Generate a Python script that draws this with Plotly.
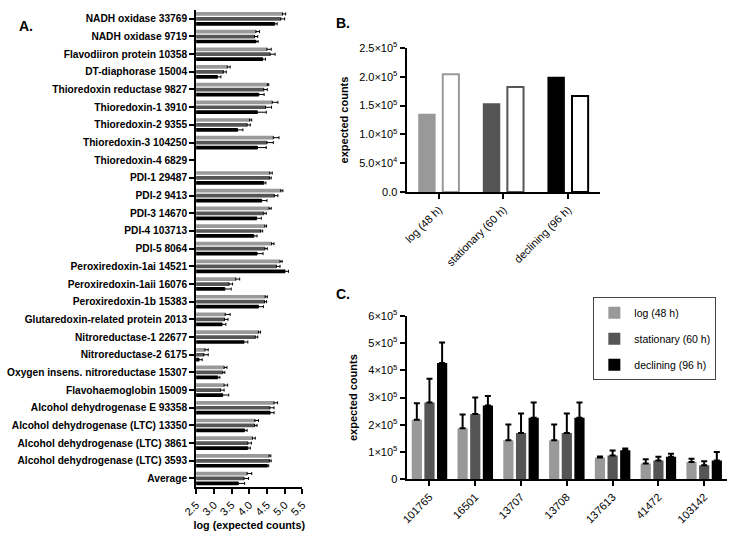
import plotly.graph_objects as go

W, H = 734, 539

# ---------------- Panel A data ----------------
a_labels = [
    "NADH oxidase 33769", "NADH oxidase 9719", "Flavodiiron protein 10358",
    "DT-diaphorase 15004", "Thioredoxin reductase 9827", "Thioredoxin-1 3910",
    "Thioredoxin-2 9355", "Thioredoxin-3 104250", "Thioredoxin-4 6829",
    "PDI-1 29487", "PDI-2 9413", "PDI-3 14670", "PDI-4 103713", "PDI-5 8064",
    "Peroxiredoxin-1ai 14521", "Peroxiredoxin-1aii 16076", "Peroxiredoxin-1b 15383",
    "Glutaredoxin-related protein 2013", "Nitroreductase-1 22677",
    "Nitroreductase-2 6175", "Oxygen insens. nitroreductase 15307",
    "Flavohaemoglobin 15009", "Alcohol dehydrogenase E 93358",
    "Alcohol dehydrogenase (LTC) 13350", "Alcohol dehydrogenase (LTC) 3861",
    "Alcohol dehydrogenase (LTC) 3593", "Average",
]
a_log = [4.94, 4.19, 4.50, 3.38, 4.51, 4.65, 4.01, 4.68, None, 4.58, 4.89, 4.56, 4.44, 4.63,
         4.87, 3.62, 4.45, 3.32, 4.26, 2.75, 3.29, 3.29, 4.70, 4.16, 4.09, 4.56, 3.94]
a_log_err = [0.09, 0.10, 0.12, 0.08, 0.04, 0.16, 0.06, 0.16, None, 0.07, 0.06, 0.06, 0.05, 0.07,
             0.06, 0.11, 0.06, 0.14, 0.06, 0.09, 0.08, 0.10, 0.10, 0.10, 0.08, 0.05, 0.13]
a_stat = [4.89, 4.15, 4.59, 3.27, 4.41, 4.46, 3.94, 4.50, None, 4.57, 4.71, 4.41, 4.32, 4.44,
          4.77, 3.43, 4.43, 3.30, 4.17, 2.72, 3.25, 3.19, 4.58, 4.15, 3.96, 4.57, 3.85]
a_stat_err = [0.11, 0.09, 0.14, 0.08, 0.10, 0.17, 0.09, 0.18, None, 0.05, 0.10, 0.07, 0.06, 0.07,
              0.10, 0.10, 0.06, 0.10, 0.07, 0.12, 0.06, 0.10, 0.12, 0.07, 0.10, 0.05, 0.13]
a_dec = [4.72, 4.19, 4.38, 3.10, 4.27, 4.23, 3.67, 4.23, None, 4.41, 4.35, 4.21, 4.13, 4.22,
         5.01, 3.31, 4.26, 3.23, 3.85, 2.58, 3.11, 3.25, 4.59, 3.87, 3.96, 4.51, 3.69]
a_dec_err = [0.07, 0.06, 0.08, 0.10, 0.15, 0.25, 0.15, 0.25, None, 0.06, 0.15, 0.13, 0.09, 0.17,
             0.10, 0.18, 0.14, 0.11, 0.11, 0.09, 0.06, 0.17, 0.11, 0.07, 0.07, 0.04, 0.18]
a_ticks = [2.5, 3.0, 3.5, 4.0, 4.5, 5.0, 5.5]
a_ticktext = ["2.5", "3.0", "3.5", "4.0", "4.5", "5.0", "5.5"]

# ---------------- Panel B data ----------------
b_phases = ["log (48 h)", "stationary (60 h)", "declining (96 h)"]
b_filled = [1.36e5, 1.54e5, 2.00e5]
b_open = [2.045e5, 1.823e5, 1.665e5]
b_tickvals = [0, 5e4, 1e5, 1.5e5, 2e5, 2.5e5]
b_ticktext = ["0.0", "5.0×10<sup>4</sup>", "1.0×10<sup>5</sup>", "1.5×10<sup>5</sup>",
              "2.0×10<sup>5</sup>", "2.5×10<sup>5</sup>"]

# ---------------- Panel C data ----------------
c_genes = ["101765", "16501", "13707", "13708", "137613", "41472", "103142"]
c_log = [2.19e5, 1.88e5, 1.44e5, 1.44e5, 0.80e5, 0.58e5, 0.64e5]
c_log_err = [0.60e5, 0.50e5, 0.57e5, 0.57e5, 0.04e5, 0.16e5, 0.12e5]
c_stat = [2.82e5, 2.40e5, 1.70e5, 1.70e5, 0.88e5, 0.69e5, 0.52e5]
c_stat_err = [0.87e5, 0.60e5, 0.72e5, 0.72e5, 0.18e5, 0.14e5, 0.15e5]
c_dec = [4.27e5, 2.71e5, 2.26e5, 2.26e5, 1.07e5, 0.83e5, 0.69e5]
c_dec_err = [0.75e5, 0.35e5, 0.56e5, 0.56e5, 0.06e5, 0.11e5, 0.32e5]
c_tickvals = [0, 1e5, 2e5, 3e5, 4e5, 5e5, 6e5]
c_ticktext = ["0", "1×10<sup>5</sup>", "2×10<sup>5</sup>", "3×10<sup>5</sup>",
              "4×10<sup>5</sup>", "5×10<sup>5</sup>", "6×10<sup>5</sup>"]
series_names = ["log (48 h)", "stationary (60 h)", "declining (96 h)"]

GRAY, DARK, BLACK = "#999999", "#555555", "#000000"
FONT = "Arial, 'Liberation Sans', sans-serif"


def px_x(p):
    return p / W


def px_y(p):
    return 1 - p / H


fig = go.Figure()

# Panel A
a_series = [(a_log, a_log_err, GRAY), (a_stat, a_stat_err, DARK), (a_dec, a_dec_err, BLACK)]
a_offsets = [-0.38, -0.10, 0.18]
for (vals, errs, col), off in zip(a_series, a_offsets):
    fig.add_trace(go.Bar(
        x=vals, y=a_labels, orientation="h", xaxis="x", yaxis="y",
        marker=dict(color=col, line=dict(width=0)), width=0.21, offset=off,
        error_x=dict(type="data", array=errs, arrayminus=[0 if e is not None else None for e in errs],
                     symmetric=False, color="black", thickness=1, width=1.5),
        showlegend=False, hoverinfo="skip"))

# Panel B
fig.add_trace(go.Bar(
    x=b_phases, y=b_filled, xaxis="x2", yaxis="y2",
    marker=dict(color=[GRAY, DARK, BLACK], line=dict(width=0)),
    width=0.27, offset=-0.32, showlegend=False))
fig.add_trace(go.Bar(
    x=b_phases, y=b_open, xaxis="x2", yaxis="y2",
    marker=dict(color="white", line=dict(color=[GRAY, DARK, BLACK], width=2)),
    width=0.25, offset=0.06, showlegend=False))

# Panel C
c_series = [(c_log, c_log_err, GRAY), (c_stat, c_stat_err, DARK), (c_dec, c_dec_err, BLACK)]
c_offsets = [-0.3875, -0.111, 0.165]
for (vals, errs, col), off, name in zip(c_series, c_offsets, series_names):
    fig.add_trace(go.Bar(
        x=c_genes, y=vals, xaxis="x3", yaxis="y3", name=name, legendgroup=name,
        marker=dict(color=col, line=dict(width=0)), width=0.223, offset=off,
        error_y=dict(type="data", array=errs, arrayminus=[0] * len(errs), symmetric=False,
                     color="black", thickness=2, width=3)))

axis_common = dict(showline=True, linecolor="black", linewidth=2, ticks="outside",
                   tickcolor="black", tickwidth=2, ticklen=5, showgrid=False, zeroline=False,
                   mirror=False)

fig.update_layout(
    width=W, height=H, margin=dict(l=0, r=0, t=0, b=0),
    paper_bgcolor="white", plot_bgcolor="rgba(0,0,0,0)",
    font=dict(family=FONT, color="black", size=11),
    barmode="group",
    xaxis=dict(domain=[px_x(187), px_x(296)], anchor="y", range=[2.5, 5.5],
               tickvals=a_ticks, ticktext=a_ticktext, tickangle=-45,
               tickfont=dict(size=11, color="black"),
               title=dict(text="<b>log (expected counts)</b>", font=dict(size=10.8, color="black"),
                          standoff=4),
               **axis_common),
    yaxis=dict(domain=[px_y(492), px_y(2)], anchor="x", type="category",
               categoryorder="array", categoryarray=a_labels, range=[26.5, -0.5],
               tickfont=dict(size=10.2, weight="bold", color="black"), **axis_common),
    xaxis2=dict(domain=[px_x(403), px_x(602)], anchor="y2", type="category",
                range=[-0.5, 2.5], tickangle=-45, tickfont=dict(size=11, color="black"),
                **axis_common),
    yaxis2=dict(domain=[px_y(189), px_y(41)], anchor="x2", range=[0, 2.5e5],
                tickvals=b_tickvals, ticktext=b_ticktext, tickfont=dict(size=11, color="black"),
                title=dict(text="<b>expected counts</b>", font=dict(size=11, color="black"),
                           standoff=8),
                **axis_common),
    xaxis3=dict(domain=[px_x(403), px_x(732)], anchor="y3", type="category",
                range=[-0.5, 6.5], tickangle=-45, tickfont=dict(size=11, color="black"),
                **axis_common),
    yaxis3=dict(domain=[px_y(484), px_y(316)], anchor="x3", range=[0, 6e5],
                tickvals=c_tickvals, ticktext=c_ticktext, tickfont=dict(size=11, color="black"),
                title=dict(text="<b>expected counts</b>", font=dict(size=11, color="black"),
                           standoff=8),
                **axis_common),
    legend=dict(x=px_x(721), y=px_y(297), xanchor="right", yanchor="top",
                bordercolor="#444444", borderwidth=1, bgcolor="white",
                font=dict(size=10.5, color="black"), tracegroupgap=7, itemwidth=30),
    annotations=[
        dict(text="<b>A.</b>", x=px_x(3), y=px_y(18), xref="paper", yref="paper",
             xanchor="left", yanchor="middle", showarrow=False, font=dict(size=14)),
        dict(text="<b>B.</b>", x=px_x(328), y=px_y(15), xref="paper", yref="paper",
             xanchor="left", yanchor="middle", showarrow=False, font=dict(size=14)),
        dict(text="<b>C.</b>", x=px_x(328), y=px_y(294), xref="paper", yref="paper",
             xanchor="left", yanchor="middle", showarrow=False, font=dict(size=14)),
    ],
)

fig.write_html(
    "out.html",
    config={"displayModeBar": False},
    post_script="document.body.style.margin='0';document.body.style.overflow='hidden';",
)
